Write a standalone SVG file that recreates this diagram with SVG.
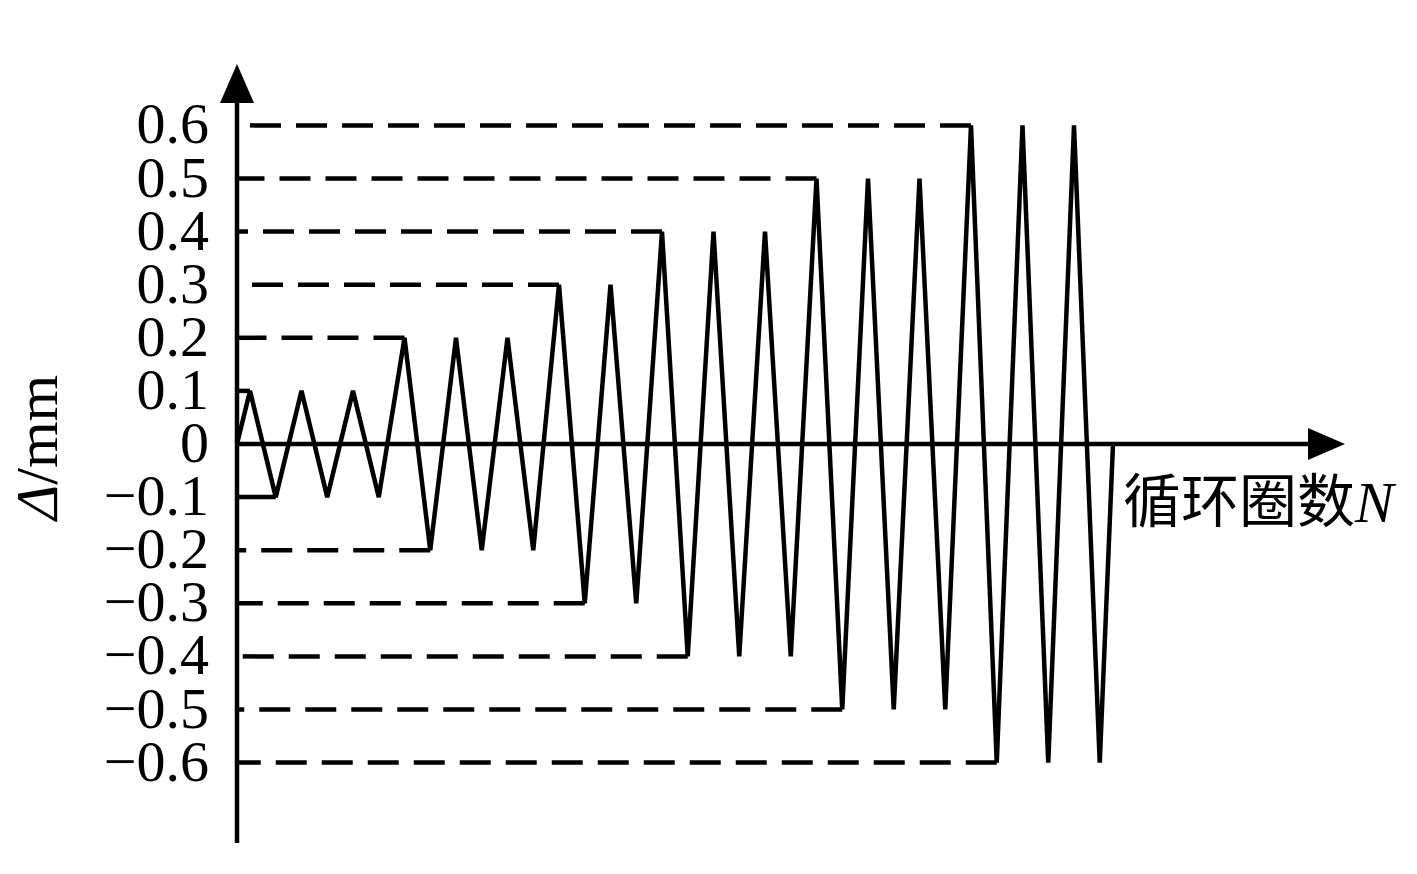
<svg xmlns="http://www.w3.org/2000/svg" width="1417" height="874" viewBox="0 0 1417 874">
  <style>
    .ax { stroke: #000; stroke-width: 4.5; fill: none; }
    .guide { stroke: #000; stroke-width: 4.5; fill: none; stroke-dasharray: 31 15; }
    .solid { stroke: #000; stroke-width: 4.5; fill: none; }
    .curve { stroke: #000; stroke-width: 4.5; fill: none; stroke-linejoin: miter; stroke-miterlimit: 4; }
    .tick { font-family: "Liberation Serif", "Times New Roman", serif; font-size: 58px; fill: #000; text-anchor: end; }
    .lbl { font-family: "Liberation Serif", "Noto Sans CJK SC", serif; font-size: 58px; fill: #000; }
  </style>
  <rect width="1417" height="874" fill="#fff"/>

  <g id="axes">
    <line class="ax" x1="237" y1="843" x2="237" y2="98"/>
    <polygon points="237,64 220,103 254,103" fill="#000"/>
    <line class="ax" x1="237" y1="444" x2="1312" y2="444"/>
    <polygon points="1345,444 1308,428 1308,460" fill="#000"/>
  </g>

  <g id="connectors">
    <path class="solid" d="M250,390.9 H237"/>
    <path class="solid" d="M275.75,497.1 H237"/>
    <path class="guide" d="M404.5,337.8 H237"/>
    <path class="guide" d="M430.25,550.2 H237"/>
    <path class="guide" d="M559,284.7 H237"/>
    <path class="guide" d="M584.75,603.3 H237"/>
    <path class="guide" d="M662,231.6 H237"/>
    <path class="guide" d="M687.75,656.4 H237"/>
    <path class="guide" d="M816.5,178.5 H237"/>
    <path class="guide" d="M842.25,709.5 H237"/>
    <path class="guide" d="M971,125.4 H237"/>
    <path class="guide" d="M996.75,762.6 H237"/>
  </g>

  <g id="loading-curve">
    <path class="curve" d="M237,444 L250,390.9 L275.75,497.1 L301.5,390.9 L327.25,497.1 L353,390.9 L378.75,497.1 L404.5,337.8 L430.25,550.2 L456,337.8 L481.75,550.2 L507.5,337.8 L533.25,550.2 L559,284.7 L584.75,603.3 L610.5,284.7 L636.25,603.3 L662,231.6 L687.75,656.4 L713.5,231.6 L739.25,656.4 L765,231.6 L790.75,656.4 L816.5,178.5 L842.25,709.5 L868,178.5 L893.75,709.5 L919.5,178.5 L945.25,709.5 L971,125.4 L996.75,762.6 L1022.5,125.4 L1048.25,762.6 L1074,125.4 L1099.75,762.6 L1113,444"/>
  </g>

  <g id="y-ticks">
    <text class="tick" x="209" y="143.4">0.6</text>
    <text class="tick" x="209" y="196.5">0.5</text>
    <text class="tick" x="209" y="249.6">0.4</text>
    <text class="tick" x="209" y="302.7">0.3</text>
    <text class="tick" x="209" y="355.8">0.2</text>
    <text class="tick" x="209" y="408.9">0.1</text>
    <text class="tick" x="209" y="462">0</text>
    <text class="tick" x="209" y="515.1">−0.1</text>
    <text class="tick" x="209" y="568.2">−0.2</text>
    <text class="tick" x="209" y="621.3">−0.3</text>
    <text class="tick" x="209" y="674.4">−0.4</text>
    <text class="tick" x="209" y="727.5">−0.5</text>
    <text class="tick" x="209" y="780.6">−0.6</text>
  </g>

  <g id="y-label">
    <text class="lbl" transform="translate(57,520) rotate(-90)" style="font-size:60px"><tspan font-style="italic">Δ</tspan>/mm</text>
  </g>

  <g id="x-label">
    <text class="lbl" x="1123" y="522">循环圈数<tspan font-style="italic">N</tspan></text>
  </g>
</svg>
